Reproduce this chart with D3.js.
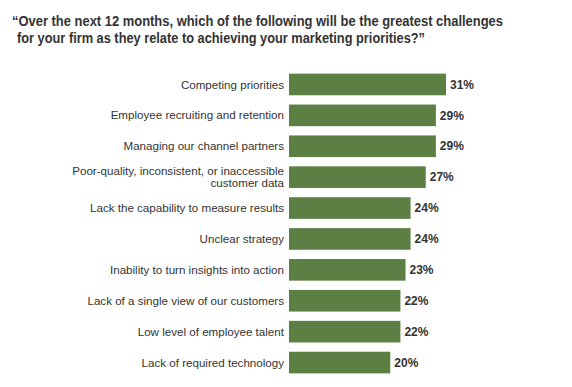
<!DOCTYPE html>
<html>
<head>
<meta charset="utf-8">
<script src="https://cdn.jsdelivr.net/npm/d3@7"></script>
<style>
  body { margin: 0; background: #fff; }
  text { font-family: "Liberation Sans", Arial, sans-serif; }
</style>
</head>
<body>
<script>
// data
const categories = [
  ["Competing priorities"],
  ["Employee recruiting and retention"],
  ["Managing our channel partners"],
  ["Poor-quality, inconsistent, or inaccessible", "customer data"],
  ["Lack the capability to measure results"],
  ["Unclear strategy"],
  ["Inability to turn insights into action"],
  ["Lack of a single view of our customers"],
  ["Low level of employee talent"],
  ["Lack of required technology"]
];
const values = [31, 29, 29, 27, 24, 24, 23, 22, 22, 20];
const titleLines = [
  "\u201cOver the next 12 months, which of the following will be the greatest challenges",
  "for your firm as they relate to achieving your marketing priorities?\u201d"
];

const width = 572, height = 387;
const barLeft = 289;

const svg = d3.select("body").append("svg")
    .attr("width", width)
    .attr("height", height);

// title, squeezed to the width of the original
svg.append("text")
    .attr("x", 12)
    .attr("y", 26)
    .attr("textLength", 491)
    .attr("lengthAdjust", "spacingAndGlyphs")
    .style("font-size", "14.5px")
    .style("font-weight", "bold")
    .style("fill", "#333")
    .text(titleLines[0]);
svg.append("text")
    .attr("x", 17)
    .attr("y", 43)
    .attr("textLength", 408)
    .attr("lengthAdjust", "spacingAndGlyphs")
    .style("font-size", "14.5px")
    .style("font-weight", "bold")
    .style("fill", "#333")
    .text(titleLines[1]);

const x = d3.scaleLinear()
    .domain([0, 31])
    .range([barLeft, barLeft + 157]);

const y = d3.scaleBand()
    .domain(d3.range(values.length))
    .range([69, 378])
    .paddingInner(0.3)
    .paddingOuter(0.15);

const rows = svg.selectAll(".row")
    .data(values)
    .enter().append("g")
    .attr("class", "row");

rows.append("rect")
    .attr("x", x(0))
    .attr("y", (d, i) => y(i))
    .attr("width", d => x(d) - x(0))
    .attr("height", y.bandwidth())
    .style("fill", "#5c7f43");

rows.append("text")
    .attr("x", d => x(d) + 4)
    .attr("y", (d, i) => y(i) + y.bandwidth() / 2)
    .attr("dy", ".35em")
    .style("font-size", "12px")
    .style("font-weight", "bold")
    .style("fill", "#333")
    .text(d => d + "%");

// category labels
rows.each(function (d, i) {
  const lines = categories[i];
  const cy = y(i) + y.bandwidth() / 2;
  lines.forEach((line, j) => {
    d3.select(this).append("text")
        .attr("text-anchor", "end")
        .attr("x", barLeft - 5)
        .attr("y", cy + (j - (lines.length - 1) / 2) * 12.5)
        .attr("dy", ".35em")
        .style("font-size", "11.6px")
        .style("fill", "#333")
        .text(line);
  });
});
</script>
</body>
</html>
